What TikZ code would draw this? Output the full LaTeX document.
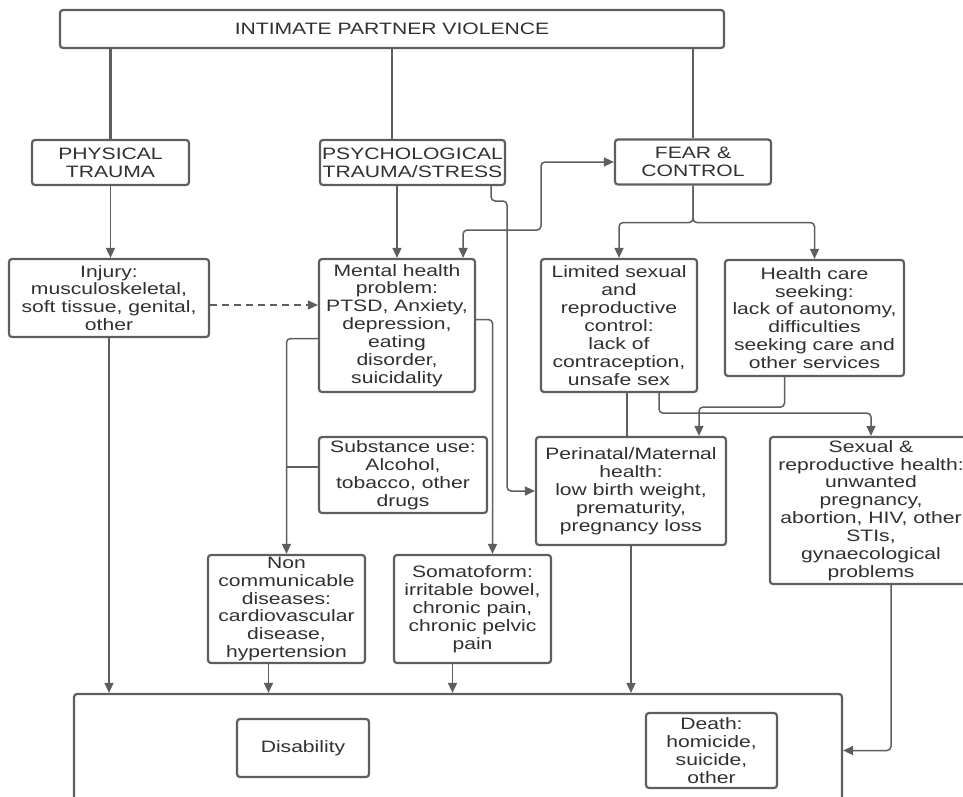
\documentclass[tikz,border=0pt]{standalone}
\usepackage{fontspec}
\setmainfont{Liberation Sans}[FakeStretch=1.28]
\usetikzlibrary{positioning, arrows.meta, calc}
\definecolor{linegray}{HTML}{5E5E5E}
\definecolor{textgray}{HTML}{303030}

\begin{document}
\begin{tikzpicture}[
  x=1pt, y=-1pt,
  >={Triangle[length=10pt, width=9pt]},
  box/.style={draw=linegray, line width=2.2pt, rounded corners=3pt,
    align=center, inner sep=1pt, text=textgray,
    font=\fontsize{16.5}{17.9}\selectfont},
  boxsize/.style 2 args={minimum width=#1pt, minimum height=#2pt},
  link/.style={draw=linegray, line width=1.5pt, rounded corners=4pt},
  trunk/.style={draw=linegray, line width=2.6pt},
]
\useasboundingbox (0,0) rectangle (963,797);
\clip (0,0) rectangle (963,797);

% === top levels ===
\node[box, boxsize={664}{38}] (ipv) at (392,29) {INTIMATE PARTNER VIOLENCE};
\node[box, boxsize={157}{45}] (phys) at (110.5,162.5) {PHYSICAL\\TRAUMA};
\node[box, boxsize={185}{45}] (psych) at (412.5,162.5) {PSYCHOLOGICAL\\TRAUMA/STRESS};
\node[box, boxsize={156}{45}] (fear) at (693,162) {FEAR \&\\CONTROL};

% === consequences ===
\node[box, boxsize={200}{78}] (injury) at (109,298)
  {Injury:\\musculoskeletal,\\soft tissue, genital,\\other};
\node[box, boxsize={156}{133}] (mental) at (397,325.5)
  {Mental health\\problem:\\PTSD, Anxiety,\\depression,\\eating\\disorder,\\suicidality};
\node[box, boxsize={156}{133}] (limited) at (619,325.5)
  {Limited sexual\\and\\reproductive\\control:\\lack of\\contraception,\\unsafe sex};
\node[box, boxsize={179}{116}] (care) at (814.5,318)
  {Health care\\seeking:\\lack of autonomy,\\difficulties\\seeking care and\\other services};
\node[box, boxsize={168}{76}] (subst) at (403,475)
  {Substance use:\\Alcohol,\\tobacco, other\\drugs};
\node[box, boxsize={190}{108}] (perinatal) at (631,491)
  {Perinatal/Maternal\\health:\\low birth weight,\\prematurity,\\pregnancy loss};
\node[box, boxsize={202}{147}] (sexrep) at (871,510.5)
  {Sexual \&\\reproductive health:\\unwanted\\pregnancy,\\abortion, HIV, other\\STIs,\\gynaecological\\problems};
\node[box, boxsize={157}{108}] (ncd) at (286.5,609)
  {Non\\communicable\\diseases:\\cardiovascular\\disease,\\hypertension};
\node[box, boxsize={157}{108}] (soma) at (472.5,609)
  {Somatoform:\\irritable bowel,\\chronic pain,\\chronic pelvic\\pain};

% === outcomes ===
\node[box, boxsize={768}{136}] (outcome) at (458,762) {};
\node[box, boxsize={132}{58}] (disab) at (303,748) {Disability};
\node[box, boxsize={131}{75}] (death) at (711.5,750.5)
  {Death:\\homicide,\\suicide,\\other};

% trunk lines from IPV
\draw[trunk] (phys.north |- ipv.south) -- (phys.north);
\draw[trunk] (ipv.south) -- (ipv.south |- psych.north);
\draw[trunk] (fear.north |- ipv.south) -- (fear.north);

% physical trauma
\draw[link, ->] (phys.south) -- (phys.south |- injury.north);
\draw[link, ->, dash pattern=on 7pt off 5pt] ([yshift=-7pt]injury.east)
  -- ([yshift=-7pt]injury.east -| mental.west);
\draw[link, ->] (injury.south) -- (injury.south |- outcome.north);

% psychological trauma
\coordinate (pbend) at (507,201);
\coordinate (mfbend) at (541,230);
\draw[link, ->] (psych.south -| mental.north) -- (mental.north);
\draw[link, ->] ([xshift=-15pt]psych.south east) |- (pbend) |- (perinatal.west);
\draw[link, <->] ([xshift=-13pt]mental.north east) |- (mfbend) |- (fear.west);

% mental health
\draw[link, ->] ([yshift=-13pt]mental.west) -| (ncd.north);
\draw[trunk] ([yshift=8pt]subst.west) -- ([yshift=8pt]subst.west -| ncd.north);
\draw[link, ->] ([yshift=6pt]mental.east) -| ([xshift=20pt]soma.north);

% fear & control
\draw[link, ->] (fear.south) -- ++(0,37) -| (limited.north);
\draw[link, ->] (fear.south) -- ++(0,37) -| (care.north);
\draw[trunk] ([xshift=8pt]limited.south) -- ([xshift=8pt]limited.south |- perinatal.north);
\draw[link, ->] ([xshift=40pt]limited.south) -- ++(0,20) -| (sexrep.north);
\draw[link, ->] ([xshift=-30pt]care.south) -- ++(0,30) -| ([xshift=68pt]perinatal.north);

% into outcomes
\draw[link, ->] ([xshift=-18pt]ncd.south) -- ([xshift=-18pt]ncd.south |- outcome.north);
\draw[link, ->] ([xshift=-20pt]soma.south) -- ([xshift=-20pt]soma.south |- outcome.north);
\draw[link, ->] (perinatal.south) -- (perinatal.south |- outcome.north);
\draw[link, ->] ([xshift=20pt]sexrep.south) |- (death.east -| outcome.east);

\end{tikzpicture}
\end{document}
